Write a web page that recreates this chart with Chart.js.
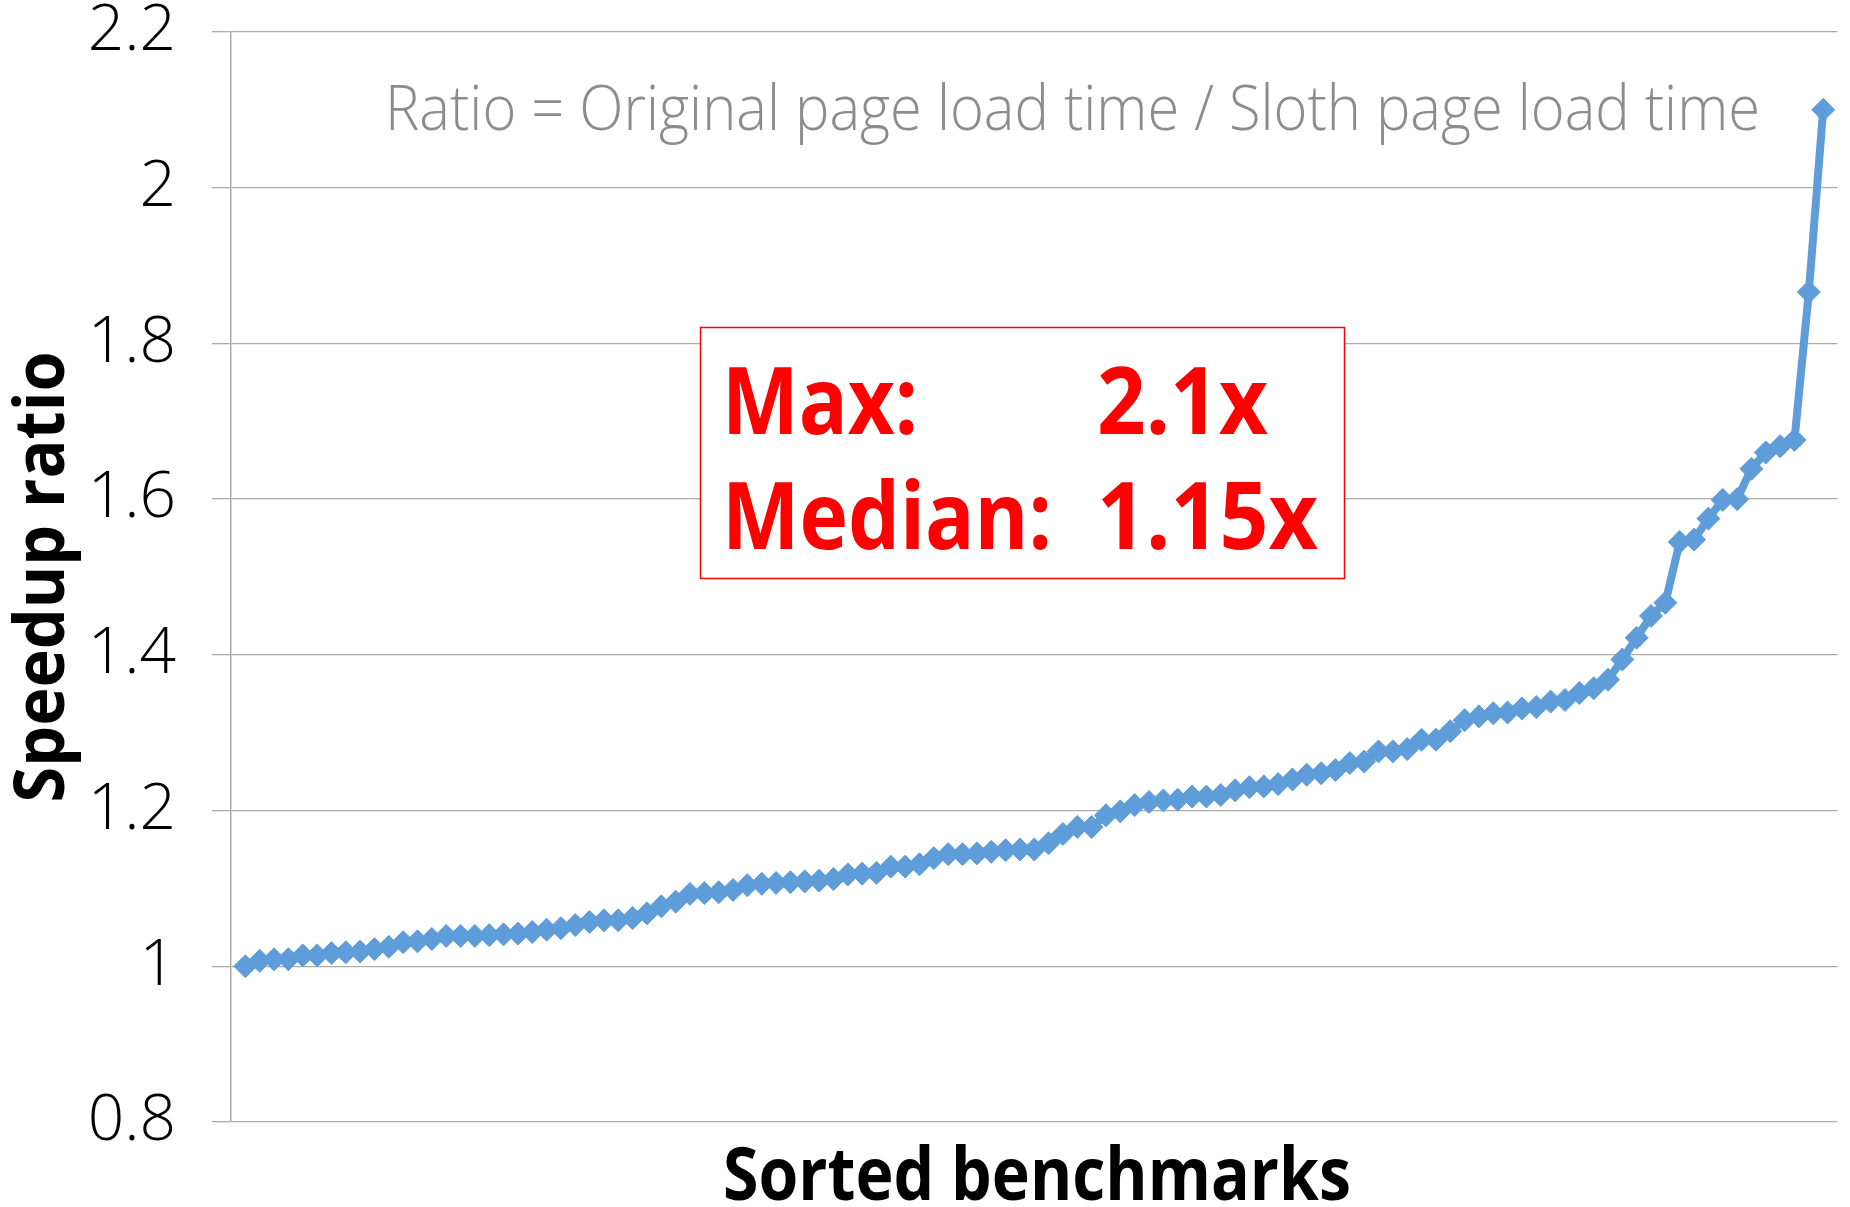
<!DOCTYPE html>
<html>
<head>
<meta charset="utf-8">
<script src="https://cdn.jsdelivr.net/npm/chart.js@4/dist/chart.umd.min.js"></script>
<style>
  html, body { margin: 0; padding: 0; background: #ffffff; }
  #wrap { width: 1850px; height: 1207px; }
</style>
</head>
<body>
<div id="wrap"><canvas id="chart" width="1850" height="1207"></canvas></div>
<script>
// Speedup ratio per benchmark, sorted ascending (111 benchmarks)
const speedup = [
  1.000, 1.007, 1.009, 1.009, 1.014, 1.014, 1.017, 1.018, 1.019, 1.022,
  1.025, 1.031, 1.032, 1.035, 1.039, 1.039, 1.039, 1.040, 1.041, 1.042,
  1.044, 1.047, 1.049, 1.053, 1.057, 1.059, 1.059, 1.062, 1.068, 1.077,
  1.083, 1.093, 1.094, 1.095, 1.098, 1.104, 1.106, 1.107, 1.108, 1.109,
  1.110, 1.112, 1.118, 1.119, 1.120, 1.128, 1.128, 1.131, 1.139, 1.144,
  1.144, 1.145, 1.147, 1.149, 1.150, 1.150, 1.158, 1.170, 1.179, 1.179,
  1.194, 1.199, 1.207, 1.211, 1.213, 1.214, 1.218, 1.218, 1.220, 1.226,
  1.230, 1.231, 1.234, 1.240, 1.246, 1.248, 1.252, 1.261, 1.263, 1.276,
  1.276, 1.279, 1.291, 1.291, 1.302, 1.316, 1.321, 1.325, 1.326, 1.331,
  1.333, 1.340, 1.342, 1.351, 1.357, 1.368, 1.394, 1.422, 1.450, 1.467,
  1.545, 1.548, 1.575, 1.599, 1.600, 1.639, 1.660, 1.668, 1.676, 1.866,
  2.100
];

// Y axis tick values and their printed labels
const yTickValues = [0.8, 1.0, 1.2, 1.4, 1.6, 1.8, 2.0, 2.2];
const yTickLabels = ['0.8', '1', '1.2', '1.4', '1.6', '1.8', '2', '2.2'];

// Texts
const yTitle = 'Speedup ratio';
const xTitle = 'Sorted benchmarks';
const noteText = 'Ratio = Original page load time / Sloth page load time';
const statNames = ['Max:', 'Median:'];
const statValues = ['2.1x', '1.15x'];

const LINE_BLUE = '#5e9dd9';
const GRID_GRAY = '#ababab';

// Draw text squeezed/stretched horizontally to a given width
function drawFitted(ctx, text, x, y, width, font, color, align) {
  ctx.save();
  ctx.font = font;
  ctx.fillStyle = color;
  ctx.textBaseline = 'alphabetic';
  ctx.textAlign = align || 'left';
  const w = ctx.measureText(text).width;
  const sx = width / w;
  ctx.translate(x, y);
  ctx.scale(sx, 1);
  ctx.fillText(text, 0, 0);
  ctx.restore();
}

const decorations = {
  id: 'decorations',
  afterDraw(chart) {
    const ctx = chart.ctx;

    // vertical axis title
    ctx.save();
    ctx.translate(64, 577);
    ctx.rotate(-Math.PI / 2);
    drawFitted(ctx, yTitle, 0, 0, 451, 'bold 70px "Open Sans"', '#000000', 'center');
    ctx.restore();

    // horizontal axis title
    drawFitted(ctx, xTitle, 1037, 1200, 628, 'bold 73px "Open Sans"', '#000000', 'center');

    // definition note
    drawFitted(ctx, noteText, 385, 130, 1375, '300 63px "Open Sans"', '#8c8c8c', 'left');

    // summary box
    ctx.save();
    ctx.fillStyle = '#ffffff';
    ctx.fillRect(700, 327, 645, 252);
    ctx.strokeStyle = '#ff0000';
    ctx.lineWidth = 1.5;
    ctx.strokeRect(700.5, 327.5, 644, 251);
    ctx.restore();

    const statFont = 'bold 94px "Open Sans"';
    drawFitted(ctx, statNames[0], 722, 434, 196, statFont, '#ff0000', 'left');
    drawFitted(ctx, statValues[0], 1097, 434, 171, statFont, '#ff0000', 'left');
    drawFitted(ctx, statNames[1], 722, 549, 330, statFont, '#ff0000', 'left');
    drawFitted(ctx, statValues[1], 1097, 549, 221, statFont, '#ff0000', 'left');
  }
};

new Chart(document.getElementById('chart'), {
  type: 'line',
  data: {
    datasets: [{
      data: speedup.map((v, i) => ({ x: i + 1, y: v })),
      borderColor: LINE_BLUE,
      backgroundColor: LINE_BLUE,
      borderWidth: 8,
      tension: 0,
      pointStyle: 'rectRot',
      pointRadius: 11.5,
      pointBorderWidth: 1,
      pointBackgroundColor: LINE_BLUE,
      pointBorderColor: LINE_BLUE
    }]
  },
  options: {
    responsive: false,
    animation: false,
    devicePixelRatio: 1,
    layout: { padding: { top: 32, right: 7, bottom: 85, left: 0 } },
    plugins: {
      legend: { display: false },
      tooltip: { enabled: false }
    },
    scales: {
      x: {
        type: 'linear',
        min: 0,
        max: speedup.length + 1,
        display: false
      },
      y: {
        type: 'linear',
        min: 0.8,
        max: 2.2,
        afterBuildTicks(scale) {
          scale.ticks = yTickValues.map(v => ({ value: v }));
        },
        afterFit(scale) {
          scale.width = 231;
          scale.paddingTop = 0;
          scale.paddingBottom = 0;
        },
        border: { display: true, color: GRID_GRAY, width: 1.5 },
        grid: {
          color: GRID_GRAY,
          lineWidth: 1.3,
          drawTicks: true,
          tickLength: 19,
          tickColor: GRID_GRAY
        },
        ticks: {
          padding: 36,
          color: '#000000',
          font: { family: '"Open Sans"', weight: '300', size: 64, lineHeight: 0.9 },
          callback(value) {
            const i = yTickValues.findIndex(t => Math.abs(t - value) < 1e-6);
            return i >= 0 ? yTickLabels[i] : '';
          }
        }
      }
    }
  },
  plugins: [decorations]
});
</script>
</body>
</html>
